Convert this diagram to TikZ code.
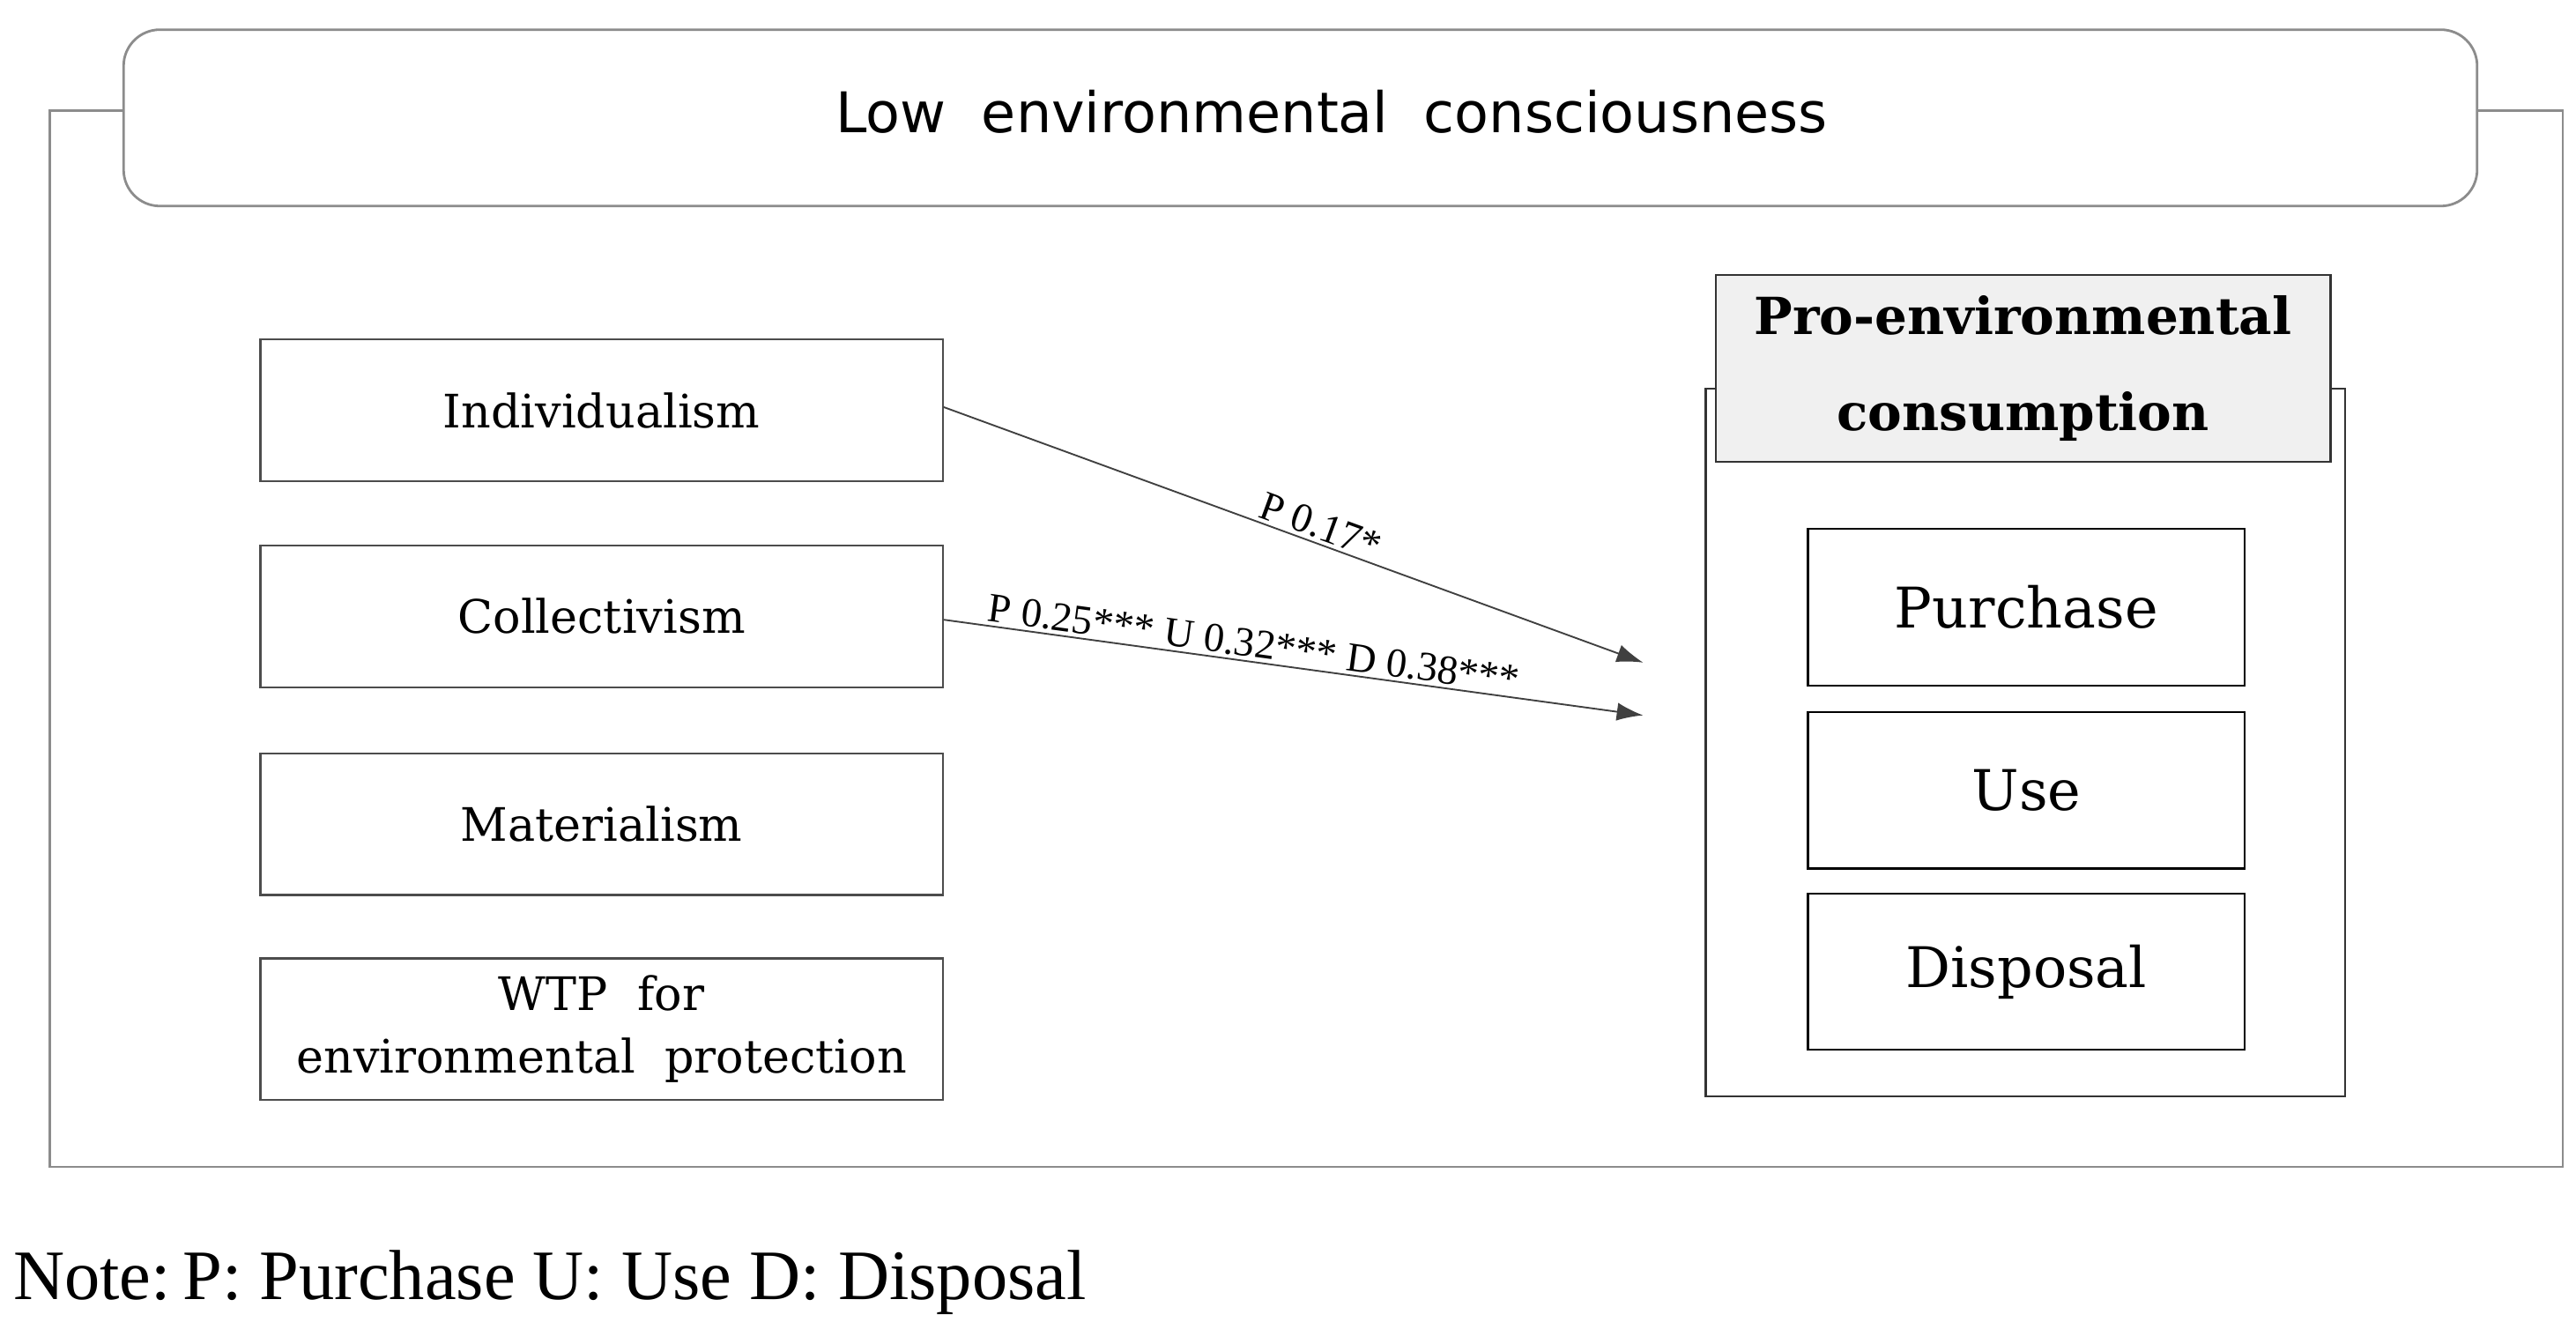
\documentclass[tikz,border=0pt]{standalone}
\usepackage{fontspec}
\setmainfont{Liberation Serif}
\newfontfamily\gul{DejaVu Sans}
\newfontfamily\bat{DejaVu Serif}
\usetikzlibrary{arrows.meta}
\begin{document}
\begin{tikzpicture}[x=1pt,y=-1pt,
  gbox/.style={draw=black!45,line width=1.5pt},
  lbox/.style={draw=black!70,line width=1.2pt,minimum width=414pt,minimum height=86pt,inner sep=0pt,align=center,font=\bat\fontsize{28}{38}\selectfont},
  ibox/.style={draw=black,line width=1.2pt,minimum width=265pt,minimum height=95pt,inner sep=0pt,font=\bat\fontsize{34}{38}\selectfont},
  arr/.style={draw=black!75,line width=1pt,-{Latex[length=16pt,width=11pt]}},
  lab/.style={font=\fontsize{25}{28}\selectfont,inner sep=2pt}]
\useasboundingbox (0,0) rectangle (1563,815);
\fill[white] (0,0) rectangle (1563,815);
\draw[gbox] (30,67) rectangle (1555,708);
\node[gbox,fill=white,rounded corners=22pt,minimum width=1428pt,minimum height=107pt] (top) at (789,71.5) {};
\node[font=\gul\fontsize{34}{38}\selectfont] (toptxt) at (808,68) {Low\ \ environmental\ \ consciousness};
\node[lbox] (ind) at (365,249) {Individualism};
\node[lbox] (col) at (365,374) {Collectivism};
\node[lbox] (mat) at (365,500) {Materialism};
\node[lbox] (wtp) at (365,624.5) {WTP\ \ for\\environmental\ \ protection};
\draw[draw=black!80,line width=1.2pt] (1035,236) rectangle (1423,665);
\node[draw=black!80,line width=1.2pt,fill=black!6,minimum width=373pt,minimum height=113pt,align=center,inner sep=0pt,font=\bat\bfseries\fontsize{31}{58}\selectfont] (pec) at (1227.5,223.5) {Pro-environmental\\consumption};
\node[ibox] (pur) at (1229.5,368.5) {Purchase};
\node[ibox] (use) at (1229.5,479.5) {Use};
\node[ibox] (dis) at (1229.5,589.5) {Disposal};
\coordinate (e1) at (997,402);
\coordinate (e2) at (997,434);
\draw[arr] (ind.east) ++(0,-2) -- (e1) node[lab,pos=0.53,above,sloped] {P 0.17*};
\draw[arr] (col.east) ++(0,2) -- (e2) node[lab,pos=0.44,above,sloped] {P 0.25*** U 0.32*** D 0.38***};
\node[anchor=west,font=\fontsize{43}{46}\selectfont,inner sep=0pt] (note) at (8,778) {Note:\,P: Purchase U: Use D: Disposal};
\end{tikzpicture}
\end{document}
